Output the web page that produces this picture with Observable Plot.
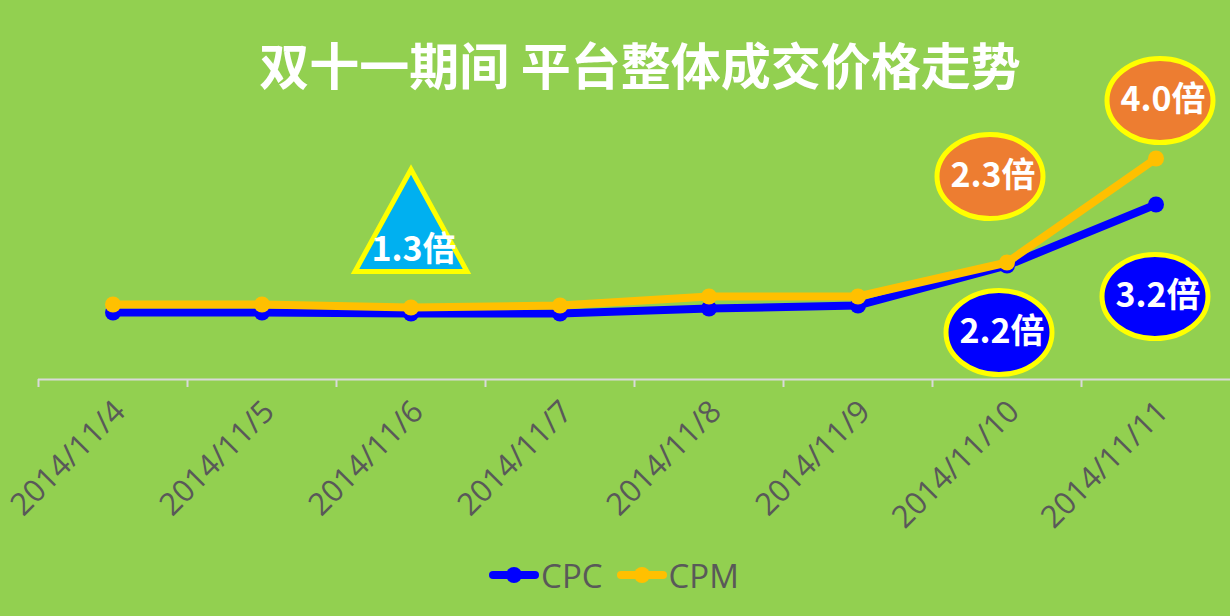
<!DOCTYPE html>
<html>
<head>
<meta charset="utf-8">
<script src="https://cdn.jsdelivr.net/npm/d3@7"></script>
<script src="https://cdn.jsdelivr.net/npm/@observablehq/plot@0.6"></script>
<style>
  html, body { margin: 0; padding: 0; background: #92D050; }
  #wrap { width: 1230px; height: 616px; background: #92D050; overflow: hidden; }
  #title { height: 110px; box-sizing: border-box; padding-left: 50px; padding-top: 36px;
    text-align: center; color: #fff; font: bold 50px "Noto Sans CJK SC", sans-serif; line-height: 54px; }
  #legend { height: 76px; display: flex; justify-content: center; align-items: center; padding-right: 2px;
    padding-bottom: 6px; box-sizing: border-box;
    font: 33px "Open Sans", sans-serif; color: #595959; gap: 14px; }
  .item { display: flex; align-items: center; }
  .item svg { margin-right: 2px; }
  #chart svg { display: block; }
</style>
</head>
<body>
<div id="wrap">
  <div id="title">双十一期间 平台整体成交价格走势</div>
  <div id="chart"></div>
  <div id="legend"></div>
</div>
<script>
const dates = ["2014/11/4","2014/11/5","2014/11/6","2014/11/7","2014/11/8","2014/11/9","2014/11/10","2014/11/11"];
const cpc = [0.67, 0.67, 0.66, 0.66, 0.71, 0.74, 1.14, 1.75];
const cpm = [0.75, 0.75, 0.72, 0.74, 0.83, 0.83, 1.17, 2.21];
const seriesNames = ["CPC", "CPM"];
const seriesColors = ["#0000FF", "#FFC000"];

// callouts
const annoDates = ["2014/11/6", "2014/11/10", "2014/11/11", "2014/11/10", "2014/11/11"];
const annoValues = [1.29, 2.03, 2.79, 0.47, 0.83];
const annoTexts = ["1.3倍", "2.3倍", "4.0倍", "2.2倍", "3.2倍"];
const annoFills = ["#00B0F0", "#ED7D31", "#ED7D31", "#0000FF", "#0000FF"];
const annoShapes = ["triangle", "ellipse", "ellipse", "ellipse", "ellipse"];
const annoNudge = [0, -17, 4, -8, -1];

const rows = [];
dates.forEach((d, i) => {
  rows.push({date: d, value: cpc[i], series: "CPC"});
  rows.push({date: d, value: cpm[i], series: "CPM"});
});
const annos = annoDates.map((d, i) => ({date: d, value: annoValues[i], text: annoTexts[i], fill: annoFills[i], shape: annoShapes[i]}));

const ellipseSymbol = {
  draw(ctx) {
    const a = 53, b = 42, k = 0.5523;
    ctx.moveTo(a, 0);
    ctx.bezierCurveTo(a, k * b, k * a, b, 0, b);
    ctx.bezierCurveTo(-k * a, b, -a, k * b, -a, 0);
    ctx.bezierCurveTo(-a, -k * b, -k * a, -b, 0, -b);
    ctx.bezierCurveTo(k * a, -b, a, -k * b, a, 0);
    ctx.closePath();
  }
};
const triangleSymbol = {
  draw(ctx) {
    ctx.moveTo(0, -81);
    ctx.lineTo(56, 21);
    ctx.lineTo(-56, 21);
    ctx.closePath();
  }
};

const font = "'Open Sans', sans-serif";
const cjk = "'Noto Sans CJK SC', sans-serif";

const marks = [
  Plot.ruleY([0], {stroke: "#D9D9D9", strokeWidth: 2}),
  Plot.axisX({tickSize: 8, tickFormat: () => "", dx: -74.5, stroke: "#D9D9D9", strokeWidth: 2, label: null}),
  Plot.axisX({tickSize: 0, tickPadding: 27, tickRotate: -45, fontSize: 31, fontFamily: font, fill: "#595959", dx: 7, label: null})
];
seriesNames.forEach((s, i) => {
  const data = rows.filter(r => r.series === s);
  marks.push(Plot.line(data, {x: "date", y: "value", stroke: seriesColors[i], strokeWidth: 8, strokeLinejoin: "round"}));
  marks.push(Plot.dot(data, {x: "date", y: "value", r: 8, fill: seriesColors[i]}));
});
annos.forEach((a, i) => {
  marks.push(Plot.dot([a], {x: "date", y: "value", r: 40, fill: a.fill, stroke: "#FFFF00", strokeWidth: 5,
    symbol: a.shape === "ellipse" ? ellipseSymbol : triangleSymbol, dx: annoNudge[i]}));
  marks.push(Plot.text([a], {x: "date", y: "value", text: "text", fill: "white", fontSize: 34, fontWeight: "bold",
    fontFamily: cjk, dx: annoNudge[i] + 3}));
});

const chart = Plot.plot({
  width: 1230,
  height: 430,
  marginLeft: 38,
  marginRight: 0,
  marginTop: 19,
  marginBottom: 161,
  style: {background: "transparent", overflow: "visible"},
  x: {type: "band", domain: dates, padding: 0, align: 0.5, axis: null},
  y: {domain: [0, 2.5], axis: null},
  marks
});
document.getElementById("chart").appendChild(chart);

const legend = document.getElementById("legend");
seriesNames.forEach((s, i) => {
  const item = document.createElement("div");
  item.className = "item";
  item.innerHTML = `<svg width="50" height="20"><line x1="4" y1="10" x2="46" y2="10" stroke="${seriesColors[i]}" stroke-width="8" stroke-linecap="round"/><circle cx="25" cy="10" r="8" fill="${seriesColors[i]}"/></svg><span>${s}</span>`;
  legend.appendChild(item);
});
</script>
</body>
</html>
